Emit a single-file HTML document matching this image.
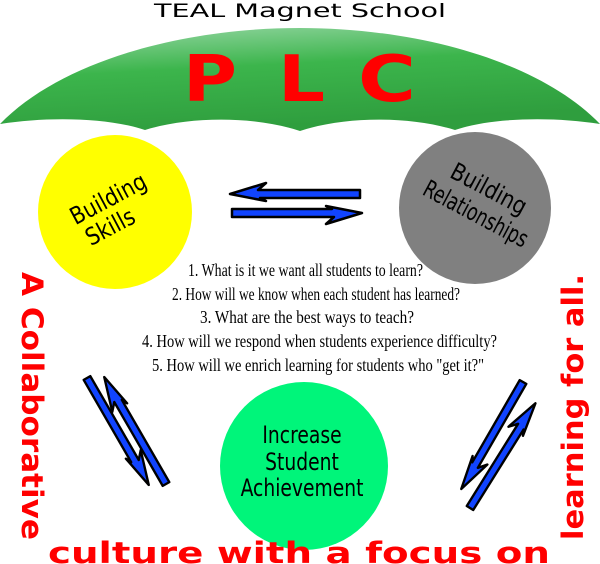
<!DOCTYPE html>
<html><head><meta charset="utf-8"><style>
html,body{margin:0;padding:0;background:#fff;width:600px;height:564px;overflow:hidden}
svg{display:block}
</style></head><body>
<svg width="600" height="564" viewBox="0 0 600 564" xmlns="http://www.w3.org/2000/svg">
<defs>
<linearGradient id="g" x1="0" y1="0" x2="0.3" y2="1">
<stop offset="0" stop-color="#9ad8a8"/><stop offset="0.45" stop-color="#3cb54c"/><stop offset="1" stop-color="#2f9e3e"/>
</linearGradient>
<g id="arr"><path d="M0,-4 L102,-4 L94,-11 L130,0 L94,7 L100,4 L0,4 Z" fill="#1144ff" stroke="#000" stroke-width="2.5" stroke-linejoin="round"/></g>
</defs>
<text x="300" y="17" text-anchor="middle" font-family="DejaVu Sans, sans-serif" font-size="19" textLength="292" lengthAdjust="spacingAndGlyphs">TEAL Magnet School</text>
<path d="M0,124 C60,62 180,28 300,28 C420,28 540,62 600,124 C550,116 490,118 455,130 C410,116 345,116 300,131 C255,116 190,116 145,130 C110,118 50,116 0,124 Z" fill="url(#g)"/>
<g font-family="DejaVu Sans, sans-serif" font-weight="bold" font-size="64" fill="#f00">
<text x="183" y="101" textLength="54" lengthAdjust="spacingAndGlyphs">P</text>
<text x="278" y="101" textLength="47" lengthAdjust="spacingAndGlyphs">L</text>
<text x="358" y="101" textLength="58" lengthAdjust="spacingAndGlyphs">C</text>
</g>
<circle cx="115" cy="212" r="77" fill="#ff0"/>
<circle cx="475" cy="208" r="76" fill="#808080"/>
<circle cx="304" cy="466" r="84" fill="#00f57a"/>
<g font-family="DejaVu Sans, sans-serif" font-size="24" text-anchor="middle">
<text transform="translate(112,206) rotate(-28) scale(0.85,1)">Building</text>
<text transform="translate(114,234) rotate(-28) scale(0.85,1)">Skills</text>
<text transform="translate(485,196) rotate(28) scale(0.85,1)">Building</text>
<text transform="translate(472,221) rotate(28) scale(0.72,1)">Relationships</text>
<text transform="translate(302,443) scale(0.78,1)">Increase</text>
<text transform="translate(302,470) scale(0.78,1)">Student</text>
<text transform="translate(302,496) scale(0.78,1)">Achievement</text>
</g>
<g font-family="Liberation Serif, serif" font-size="18">
<text x="188" y="276" textLength="235" lengthAdjust="spacingAndGlyphs">1. What is it we want all students to learn?</text>
<text x="172" y="300" textLength="288" lengthAdjust="spacingAndGlyphs">2. How will we know when each student has learned?</text>
<text x="200" y="323" textLength="214" lengthAdjust="spacingAndGlyphs">3. What are the best ways to teach?</text>
<text x="142" y="347" textLength="355" lengthAdjust="spacingAndGlyphs">4. How will we respond when students experience difficulty?</text>
<text x="152" y="371" textLength="332" lengthAdjust="spacingAndGlyphs">5. How will we enrich learning for students who "get it?"</text>
</g>
<use href="#arr" transform="translate(360,194) scale(-1,1)"/>
<use href="#arr" transform="translate(232,213) scale(1,-1)"/>
<use href="#arr" transform="translate(87,378) rotate(60) scale(0.95)"/>
<use href="#arr" transform="translate(166,484) rotate(-120) scale(0.95)"/>
<use href="#arr" transform="translate(523,382) rotate(120) scale(0.95)"/>
<use href="#arr" transform="translate(470,508) rotate(-58) scale(0.95)"/>
<g font-family="DejaVu Sans, sans-serif" font-weight="bold" fill="#f00" font-size="29">
<text transform="translate(22,272) rotate(90)" textLength="268" lengthAdjust="spacingAndGlyphs">A Collaborative</text>
<text transform="translate(583,540) rotate(-90)" textLength="266" lengthAdjust="spacingAndGlyphs">learning for all.</text>
<text x="48" y="563" textLength="502" lengthAdjust="spacingAndGlyphs">culture with a focus on</text>
</g>
</svg>
</body></html>
